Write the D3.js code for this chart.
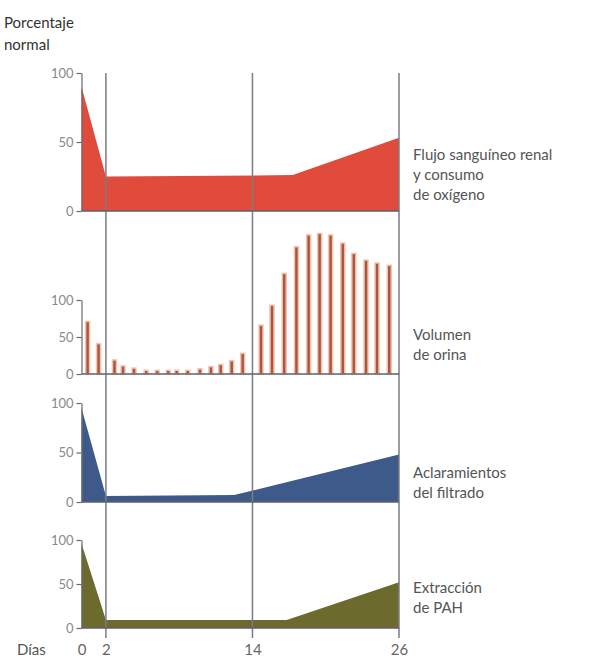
<!DOCTYPE html>
<html>
<head>
<meta charset="utf-8">
<script src="https://cdn.jsdelivr.net/npm/d3@7"></script>
<style>
  body { margin: 0; background: #fff; }
  svg { font-family: "Lato", "Open Sans", sans-serif; }
</style>
</head>
<body>
<script>
var width = 593,
    height = 659;

// data, in days and percent of normal
var flujoDays = [0, 2, 17.3, 26];
var flujoValues = [90, 25, 26, 53];

var filtradoDays = [0, 2, 12.5, 26];
var filtradoValues = [95, 6, 7, 48];

var pahDays = [0, 2, 16.8, 26];
var pahValues = [96, 9, 9, 52];

var orinaDays = [0.5, 1.4, 2.7, 3.4, 4.3, 5.3, 6.2, 7.1, 7.8, 8.7, 9.7, 10.6, 11.4, 12.3, 13.2,
                 14.7, 15.6, 16.6, 17.6, 18.6, 19.5, 20.4, 21.4, 22.3, 23.3, 24.2, 25.2];
var orinaValues = [71, 41, 19, 11, 8, 5, 5, 5, 5, 5, 7, 10, 13, 18, 28,
                   66, 93, 136, 172, 188, 190, 188, 177, 163, 154, 150, 147];

var dayTicks = [0, 2, 14, 26];
var gridDays = [2, 14, 26];
var percentTicks = [0, 50, 100];

var svg = d3.select("body")
    .append("svg")
    .attr("width", width)
    .attr("height", height);

var x = d3.scaleLinear()
    .domain([0, 26])
    .range([81.5, 399]);

// one scale per panel (0 and 100 positions)
function panelScale(y0, y100) {
    return d3.scaleLinear().domain([0, 100]).range([y0, y100]);
}

var yFlujo = panelScale(211, 73),
    yOrina = panelScale(374, 300),
    yFiltrado = panelScale(502, 403),
    yPah = panelScale(628, 540);

// title
svg.append("text")
    .attr("x", 4).attr("y", 28)
    .style("font-size", "15px")
    .style("fill", "#333")
    .text("Porcentaje");
svg.append("text")
    .attr("x", 4).attr("y", 50)
    .style("font-size", "15px")
    .style("fill", "#333")
    .text("normal");

function drawArea(days, values, y, color) {
    var pts = days.map(function (d, i) { return [d, values[i]]; });
    var area = d3.area()
        .x(function (d) { return x(d[0]); })
        .y0(y(0))
        .y1(function (d) { return y(d[1]); });
    svg.append("path")
        .datum(pts)
        .attr("d", area)
        .style("fill", color);
}

drawArea(flujoDays, flujoValues, yFlujo, "#e04b3c");
drawArea(filtradoDays, filtradoValues, yFiltrado, "#3d5a8a");
drawArea(pahDays, pahValues, yPah, "#6c6a2c");

// urine bars
var orina = orinaDays.map(function (d, i) { return { day: d, value: orinaValues[i] }; });
svg.append("g")
    .selectAll("rect")
    .data(orina)
    .enter().append("rect")
    .attr("x", function (d) { return x(d.day) - 2; })
    .attr("width", 4)
    .attr("y", function (d) { return yOrina(d.value); })
    .attr("height", function (d) { return yOrina(0) - yOrina(d.value); })
    .style("fill", "#a9583f")
    .style("stroke", "#f3c3b0")
    .style("stroke-width", 1.5);

// vertical day lines
svg.append("g")
    .selectAll("line")
    .data(gridDays)
    .enter().append("line")
    .attr("x1", function (d) { return x(d); })
    .attr("x2", function (d) { return x(d); })
    .attr("y1", 73)
    .attr("y2", 638)
    .style("stroke", "#7a7d85")
    .style("stroke-width", 1.5);

// baselines + left axes
[yFlujo, yOrina, yFiltrado, yPah].forEach(function (y) {
    svg.append("line")
        .attr("x1", x(0)).attr("x2", x(26))
        .attr("y1", y(0)).attr("y2", y(0))
        .style("stroke", "#5f6168")
        .style("stroke-width", 1.5);

    var g = svg.append("g")
        .attr("transform", "translate(" + x(0) + ",0)")
        .call(d3.axisLeft(y).tickValues(percentTicks).tickSize(5).tickSizeOuter(0).tickPadding(3));
    g.selectAll("path, line").style("stroke", "#6a6a6a").style("stroke-width", 1.2);
    g.selectAll("text")
        .style("font-family", "Lato, sans-serif")
        .style("font-size", "13px")
        .style("fill", "#8a8a8a");
});

// x labels
var xg = svg.append("g")
    .attr("transform", "translate(0,640)")
    .call(d3.axisBottom(x).tickValues(dayTicks).tickSize(0).tickPadding(4));
xg.select(".domain").remove();
xg.selectAll("text")
    .style("font-family", "Lato, sans-serif")
    .style("font-size", "15px")
    .style("fill", "#666");

svg.append("text")
    .attr("x", 17).attr("y", 655)
    .style("font-size", "15px")
    .style("fill", "#555")
    .text("Días");

// series labels on the right
var labels = [
    { lines: ["Flujo sanguíneo renal", "y consumo", "de oxígeno"], y: 160 },
    { lines: ["Volumen", "de orina"], y: 340 },
    { lines: ["Aclaramientos", "del filtrado"], y: 478 },
    { lines: ["Extracción", "de PAH"], y: 593 }
];
labels.forEach(function (l) {
    l.lines.forEach(function (t, i) {
        svg.append("text")
            .attr("x", 413)
            .attr("y", l.y + i * 20)
            .style("font-size", "15px")
            .style("fill", "#555")
            .text(t);
    });
});
</script>
</body>
</html>
